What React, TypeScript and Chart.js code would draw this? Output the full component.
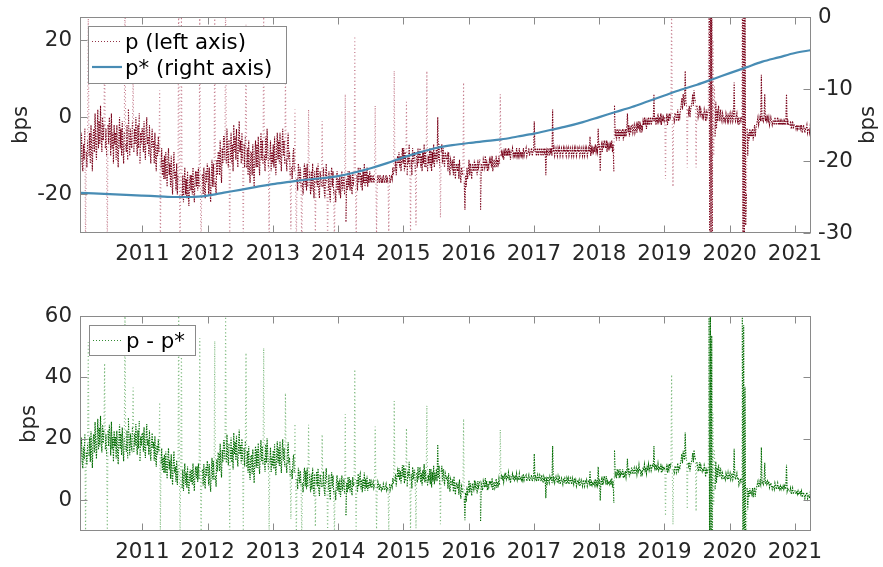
import React, { useEffect, useRef } from "react";
import { Chart, registerables } from "chart.js";

Chart.register(...registerables);

// p, eight readings a month (bps, left axis)
const P_2010 = [
  -8, -15, -6, -13, -17, -9, -4, -12,
  -14, -7, -11, -3, -36, -9, -13, -6,
  27, -10, -4, -12, -2, -9, -14, -5,
  -3, -9, 1, -7, -11, -4, 2, -8,
  -1, -7, 3, -5, -9, 0, -6, -2,
  20, -8, -3, -10, -36, -2, -7, 0,
  -3, -10, 1, -8, -4, -12, -2, -7,
  -4, -11, -2, -9, -13, -5, 0, -8,
  -3, -10, -1, -8, -12, -4, 37, -7,
  -9, -2, -11, 2, -6, -10, -3, -7,
  -8, -1, 12, -9, -3, -7, 0, -6,
  -10, -2, -8, 1, -12, -4, -7, -3,
];
const P_2011 = [
  -3, -9, -1, -8, -11, -4, 0, -7,
  -5, -10, -2, -9, -12, -6, -3, -8,
  -6, -12, -4, -11, -14, -7, -10, -5,
  -9, 7, -36, -13, -8, -15, -11, -16,
  -10, -16, -9, -14, -18, -11, -8, -15,
  -12, -18, -10, -17, -20, -13, -9, -16,
  -14, -19, -12, -20, -15, 38, -18, -36,
  -16, 27, -21, -15, -22, -17, -13, -20,
  -16, -21, -14, -20, -23, -17, -15, -19,
  -15, -20, -13, -19, -22, -16, -14, -18,
  -14, -19, -13, -18, 28, -20, -36, -15,
  -15, -20, -13, -19, -21, -14, -17, -12,
];
const P_2012 = [
  -14, -20, -13, -19, -22, -15, -11, -18,
  -12, -18, 27, -17, -20, -11, -15, -9,
  -9, -15, -6, -14, -17, -8, -12, -5,
  -5, -11, 36, -12, -3, -10, -13, -6,
  -36, -11, -4, -12, -7, -14, -2, -9,
  -5, -11, -3, -10, -13, -6, -1, -9,
  -6, -12, -4, -11, -34, -7, -13, -5,
  24, -13, -8, -15, -6, -14, -17, -9,
  -9, -15, -7, -14, -18, -10, -6, -13,
  -7, -13, -5, -12, -15, -8, -4, -11,
  -6, -12, 26, -10, -14, -5, -11, -3,
  -8, -13, -34, -11, -6, -14, -9, -12,
];
const P_2013 = [
  -7, -13, -5, -12, -15, -8, -4, -11,
  -6, -12, -4, -11, -14, -7, -3, -10,
  -6, -12, 12, -11, -14, -7, -4, -10,
  -9, -15, -29, -13, -16, -10, -8, -14,
  2, -17, -36, -16, -19, -12, -14, -17,
  -13, -18, -36, -17, -20, -14, -12, -18,
  -13, -19, -12, -18, 2, -14, -17, -20,
  -14, -19, -12, -18, -21, -14, -31, -17,
  -13, -18, -12, -19, -21, -14, -16, -18,
  -1, -18, -13, -19, -21, -15, -12, -17,
  -33, -19, -14, -20, -22, -15, -13, -18,
  -14, -20, -34, -19, -22, -16, -14, -19,
];
const P_2014 = [
  -16, -20, -15, -21, -18, -14, -19, -17,
  -15, -20, 6, -27, -16, -19, -14, -18,
  -14, -19, -15, -18, -20, -14, -17, -16,
  21, -18, -33, -15, -19, -13, -17, -14,
  -13, -18, -15, -19, -14, -17, -12, -18,
  -14, -17, -13, -18, -15, -17, -14, -16,
  -15, -17, -16, -15, -17, -16, 3, -15,
  -31, -17, -15, -16, -17, -15, -16, -17,
  -16, -17, -15, -16, -17, -16, -15, -17,
  -16, -17, -31, -15, -17, -16, -15, -16,
  -13, -15, 12, -14, -11, -15, -12, -10,
  -12, -9, -13, -10, -14, -11, -8, -12,
];
const P_2015 = [
  -8, -14, -9, -13, 4, -15, -10, -12,
  -7, -13, -30, -11, -15, -8, -12, -9,
  -9, -14, -28, -10, -13, -8, -12, -10,
  -8, -13, -10, -14, -9, -12, -7, -13,
  -9, -13, 12, -14, -10, -12, -8, -13,
  -8, -14, -9, -12, -7, -13, -10, -11,
  -8, -12, 0, -11, -7, -13, -26, -9,
  -7, -12, -8, -11, -13, -9, -10, -11,
  -10, -14, -9, -13, -15, -11, -12, -13,
  -11, -15, -10, -14, -16, -12, -13, -14,
  -12, -16, -11, -15, -17, -13, -14, -15,
  9, -17, -24, -15, -18, -13, -16, -14,
];
const P_2016 = [
  -11, -15, -12, -14, -16, -12, -13, -14,
  -11, -14, -12, -13, -15, -11, -13, -12,
  -11, -24, -12, -13, -14, -11, -12, -13,
  -10, -13, -11, -14, -12, -13, -11, -12,
  -11, -13, -10, -14, -12, -11, -13, -12,
  -10, -13, -11, -12, -10, -12, 6, -10,
  -9, -10, -9, -11, -9, -10, -8, -10,
  -9, -10, -8, -10, -9, -11, -9, -9,
  -8, -10, -9, -10, -9, -10, -8, -10,
  -9, -10, -8, -10, -9, -10, -9, -10,
  -8, -10, -9, -9, -8, -10, -9, -9,
  -8, -10, -9, -9, -8, -10, -9, -9,
];
const P_2017 = [
  -1, -9, -8, -10, -9, -8, -10, -9,
  -8, -9, -10, -8, -9, -10, -8, -9,
  -8, -15, -9, -10, -8, -9, -10, -8,
  -9, -8, -10, 2, -9, -8, -10, -9,
  -8, -9, -10, -8, -9, -8, -10, -9,
  -8, -9, -10, -8, -9, -8, -9, -10,
  -8, -9, -8, -10, -9, -8, -9, -10,
  -8, -9, -10, -8, -9, -8, -10, -9,
  -8, -9, -8, -10, -9, -8, -9, -10,
  -8, -9, -10, -8, -9, -8, -10, -9,
  -8, -9, -5, -10, -8, -9, -8, -9,
  -8, -9, -7, -9, -8, -9, -3, -8,
];
const P_2018 = [
  -7, -14, -8, -7, -9, -7, -8, -6,
  -7, -8, -6, -9, -7, -8, -7, -8,
  -7, -8, -6, -9, -7, -14, 3, -5,
  -4, -6, -3, -5, -4, -6, -3, -5,
  -4, -5, -3, -6, -4, -5, -3, -5,
  -3, 1, -4, -2, -5, -3, -4, -2,
  -2, -4, -3, -2, -4, -3, -2, -4,
  -2, -3, -1, -3, -2, -4, -2, -3,
  -1, -2, 0, -2, -1, -3, -1, -2,
  0, -2, -1, 0, -2, -1, 0, -1,
  6, -1, 0, -2, 0, -1, 1, -1,
  0, -1, 1, -2, 0, -1, 0, -1,
];
const P_2019 = [
  0, -16, -1, 1, -2, 0, -1, 1,
  0, 1, 30, -1, -18, 0, -1, 1,
  1, -1, 0, 2, -1, 1, 0, 2,
  3, 5, 2, 6, 4, 3, 12, 4,
  3, -13, 2, 1, 3, 0, 2, 3,
  4, 6, 3, 7, 5, 4, -13, 3,
  2, 0, 1, 3, 0, 2, 1, 0,
  1, 0, 2, 1, -1, 2, 0, 1,
  2, 60, -45, 60, -40, 45, -30, 20,
  -10, 8, -5, 4, -3, 2, -1, 3,
  1, -1, 2, 0, -1, 1, 0, -1,
  0, -1, 1, 0, -1, 1, -1, 0,
];
const P_2020 = [
  1, -1, 0, 1, -1, 0, 9, 0,
  -1, 0, 1, -1, 0, -2, -1, 0,
  -1, 0, 55, -45, 50, -40, 30, -28,
  -20, -3, -10, -4, -6, -3, -5, -4,
  -5, -3, -6, -4, -2, -5, -3, -2,
  -1, 0, -2, -1, 0, -1, 11, -1,
  0, -1, 0, 6, -1, 0, -1, 0,
  -1, 0, -2, -1, 0, -1, -2, -1,
  -1, -2, 0, -1, -2, -1, 0, -2,
  -1, -2, -1, -2, -1, -2, -1, -2,
  -1, -2, -1, 6, -2, -1, -2, -2,
  -2, -1, -3, -2, -1, -3, -2, -2,
];
const P_2021 = [
  -2, -3, -2, -3, -2, -3, -3, -2,
  -3, -2, -4, -3, -2, -3, -4, -3,
  -3, -2, -4, -3, -3, -4, -2, -3,
  -3, -3,
];

const P_BY_YEAR: [number, number[]][] = [
  [2010, P_2010], [2011, P_2011], [2012, P_2012], [2013, P_2013],
  [2014, P_2014], [2015, P_2015], [2016, P_2016], [2017, P_2017],
  [2018, P_2018], [2019, P_2019], [2020, P_2020], [2021, P_2021],
];
const READINGS_PER_YEAR = 96;

// p*, quarterly from 2010 Q1 (bps, right axis)
const PSTAR_START = 2010;
const PSTAR = [
  -24.4, -24.5, -24.6, -24.7, -24.8, -24.9, -25.0, -25.0,
  -24.8, -24.4, -24.0, -23.6, -23.2, -22.9, -22.6, -22.4,
  -22.1, -21.6, -21.0, -20.3, -19.5, -18.8, -18.2, -17.8,
  -17.5, -17.25, -17.0, -16.6, -16.2, -15.7, -15.2, -14.6,
  -13.9, -13.2, -12.5, -11.7, -10.9, -10.1, -9.4, -8.6,
  -7.8, -7.0, -6.2, -5.6, -5.0, -4.6,
];

const YEAR_TICKS = [2011, 2012, 2013, 2014, 2015, 2016, 2017, 2018, 2019, 2020, 2021];
const TOP_LEFT_TICKS = [-20, 0, 20];
const TOP_RIGHT_TICKS = [-30, -20, -10, 0];
const BOTTOM_TICKS = [0, 20, 40, 60];

const X_MIN = 2010.045;
const X_MAX = 2021.245;

const FONT = "'DejaVu Sans', sans-serif";
const FONT_SIZE = 21.33;
const TICK_COLOR = "#262626";
const BOX_COLOR = "#8a8a8a";
const RED = "rgb(120,0,24)";
const RED_FAINT = "rgba(150,20,50,0.55)";
const BLUE = "rgb(72,140,180)";
const GREEN = "rgb(0,108,0)";
const GREEN_FAINT = "rgba(20,130,20,0.55)";
const DOT = [1.4, 1.2];
const DOT_SPARSE = [1, 2.6];
const DOT_WIDTH = 1.1;
// jumps larger than this (bps) are drawn as faint dotted streaks,
// except inside the stress bursts where both ends are extreme
const JUMP = 12;
const BURST = 25;

// series points: x in fractional years
const pPoints = P_BY_YEAR.flatMap(([yr, vals]) =>
  vals.map((v, i) => ({ x: yr + (i + 0.5) / READINGS_PER_YEAR, y: v }))
);
const pstarPoints = PSTAR.map((v, i) => ({ x: PSTAR_START + i * 0.25, y: v }));
const pstarAt = (x: number) => {
  const i = Math.min(PSTAR.length - 1, Math.max(0, Math.round((x - PSTAR_START) / 0.25)));
  return PSTAR[i];
};
const diffPoints = pPoints.map((pt) => ({ x: pt.x, y: pt.y - pstarAt(pt.x) }));

const isFaint = (ctx: any) => {
  const i = ctx.p0DataIndex;
  const a = pPoints[i].y;
  const b = pPoints[i + 1] ? pPoints[i + 1].y : a;
  if (Math.abs(b - a) <= JUMP) return false;
  return !(Math.abs(a) >= BURST && Math.abs(b) >= BURST);
};
const dottedSegments = (faint: string) => ({
  borderColor: (ctx: any) => (isFaint(ctx) ? faint : undefined),
  borderDash: (ctx: any) => (isFaint(ctx) ? DOT_SPARSE : undefined),
});

type LegendItem = { label: string; color: string; dash: number[]; width: number };
type AxesOpts = {
  left: string;
  right?: string;
  legend: { x: number; y: number; w: number; h: number; rows: number[]; items: LegendItem[] };
  titles: { x: number; y: number }[];
};

const TL = 7;

// box, inward tick marks, legend and axis titles
const matlabAxes = {
  id: "matlabAxes",
  afterDraw(chart: any, _args: any, opts: AxesOpts) {
    const { ctx, chartArea: a } = chart;
    ctx.save();
    ctx.strokeStyle = BOX_COLOR;
    ctx.lineWidth = 1;
    ctx.setLineDash([]);
    const L = Math.round(a.left) + 0.5;
    const R = Math.round(a.right) - 0.5;
    const T = Math.round(a.top) + 0.5;
    const B = Math.round(a.bottom) - 0.5;
    ctx.beginPath();
    const xs = chart.scales.x;
    for (const t of xs.ticks) {
      const px = Math.round(xs.getPixelForValue(t.value)) + 0.5;
      ctx.moveTo(px, B);
      ctx.lineTo(px, B - TL);
      ctx.moveTo(px, T);
      ctx.lineTo(px, T + TL);
    }
    const yl = chart.scales[opts.left];
    for (const t of yl.ticks) {
      const py = Math.round(yl.getPixelForValue(t.value)) + 0.5;
      ctx.moveTo(L, py);
      ctx.lineTo(L + TL, py);
      if (!opts.right) {
        ctx.moveTo(R, py);
        ctx.lineTo(R - TL, py);
      }
    }
    if (opts.right) {
      const yr = chart.scales[opts.right];
      for (const t of yr.ticks) {
        const py = Math.round(yr.getPixelForValue(t.value)) + 0.5;
        ctx.moveTo(R, py);
        ctx.lineTo(R - TL, py);
      }
    }
    ctx.stroke();
    ctx.strokeRect(L, T, R - L, B - T);

    const lg = opts.legend;
    ctx.fillStyle = "#fff";
    ctx.fillRect(lg.x, lg.y, lg.w, lg.h);
    ctx.strokeStyle = BOX_COLOR;
    ctx.lineWidth = 1;
    ctx.strokeRect(lg.x + 0.5, lg.y + 0.5, lg.w, lg.h);
    ctx.font = `${FONT_SIZE}px ${FONT}`;
    ctx.textBaseline = "alphabetic";
    ctx.textAlign = "left";
    lg.items.forEach((it, i) => {
      const cy = lg.rows[i];
      ctx.beginPath();
      ctx.strokeStyle = it.color;
      ctx.lineWidth = it.width;
      ctx.setLineDash(it.dash);
      ctx.moveTo(lg.x + 4, cy);
      ctx.lineTo(lg.x + 34, cy);
      ctx.stroke();
      ctx.setLineDash([]);
      ctx.fillStyle = "#000";
      ctx.fillText(it.label, lg.x + 37, cy + 7.5);
    });

    ctx.fillStyle = TICK_COLOR;
    ctx.textAlign = "center";
    ctx.textBaseline = "middle";
    for (const t of opts.titles) {
      ctx.save();
      ctx.translate(t.x, t.y);
      ctx.rotate(-Math.PI / 2);
      ctx.fillText("bps", 0, 0);
      ctx.restore();
    }
    ctx.restore();
  },
};

const tickFont = { family: FONT, size: FONT_SIZE };

const xScale = (height: number, padding: number) => ({
  type: "linear" as const,
  min: X_MIN,
  max: X_MAX,
  afterBuildTicks: (s: any) => {
    s.ticks = YEAR_TICKS.map((v) => ({ value: v }));
  },
  afterFit: (s: any) => {
    s.height = height;
    s.paddingLeft = 0;
    s.paddingRight = 0;
  },
  grid: { display: false, drawTicks: false },
  border: { display: false },
  ticks: {
    font: tickFont,
    color: TICK_COLOR,
    padding,
    maxRotation: 0,
    autoSkip: false,
    callback: (v: any) => String(v),
  },
});

const yScale = (
  position: "left" | "right",
  min: number,
  max: number,
  ticks: number[],
  width: number,
  padding: number
) => ({
  type: "linear" as const,
  position,
  min,
  max,
  afterBuildTicks: (s: any) => {
    s.ticks = ticks.map((v) => ({ value: v }));
  },
  afterFit: (s: any) => {
    s.width = width;
    s.paddingTop = 0;
    s.paddingBottom = 0;
  },
  grid: { display: false, drawTicks: false },
  border: { display: false },
  ticks: { font: tickFont, color: TICK_COLOR, padding, callback: (v: any) => String(v) },
});

export default function App() {
  const topRef = useRef<HTMLCanvasElement>(null);
  const botRef = useRef<HTMLCanvasElement>(null);

  useEffect(() => {
    const top = new Chart(topRef.current!, {
      type: "line",
      data: {
        datasets: [
          {
            label: "p* (right axis)",
            data: pstarPoints,
            yAxisID: "y2",
            borderColor: BLUE,
            borderWidth: 2.2,
            pointRadius: 0,
            cubicInterpolationMode: "monotone",
          },
          {
            label: "p (left axis)",
            data: pPoints,
            yAxisID: "y",
            borderColor: RED,
            borderWidth: DOT_WIDTH,
            borderDash: DOT,
            pointRadius: 0,
            tension: 0,
            segment: dottedSegments(RED_FAINT),
          },
        ],
      },
      options: {
        responsive: false,
        animation: false,
        parsing: false,
        normalized: true,
        layout: { padding: { top: 17, left: 0, right: 0, bottom: 0 } },
        plugins: {
          legend: { display: false },
          tooltip: { enabled: false },
          matlabAxes: {
            left: "y",
            right: "y2",
            legend: {
              x: 88,
              y: 26,
              w: 198,
              h: 57,
              rows: [41.5, 67],
              items: [
                { label: "p (left axis)", color: RED, dash: [1, 2], width: 0.8 },
                { label: "p* (right axis)", color: BLUE, dash: [], width: 2.2 },
              ],
            },
            titles: [
              { x: 21, y: 125 },
              { x: 868, y: 125 },
            ],
          },
        } as any,
        scales: {
          x: xScale(50, 9),
          y: yScale("left", -30, 26, TOP_LEFT_TICKS, 80, 8),
          y2: yScale("right", -30, 0, TOP_RIGHT_TICKS, 72, 7),
        } as any,
      },
      plugins: [matlabAxes as any],
    });

    const bottom = new Chart(botRef.current!, {
      type: "line",
      data: {
        datasets: [
          {
            label: "p - p*",
            data: diffPoints,
            borderColor: GREEN,
            borderWidth: DOT_WIDTH,
            borderDash: DOT,
            pointRadius: 0,
            tension: 0,
            segment: dottedSegments(GREEN_FAINT),
          },
        ],
      },
      options: {
        responsive: false,
        animation: false,
        parsing: false,
        normalized: true,
        layout: { padding: { top: 33, left: 0, right: 72, bottom: 0 } },
        plugins: {
          legend: { display: false },
          tooltip: { enabled: false },
          matlabAxes: {
            left: "y",
            legend: {
              x: 89,
              y: 42,
              w: 106,
              h: 30,
              rows: [57.5],
              items: [{ label: "p - p*", color: GREEN, dash: [1, 2], width: 0.8 }],
            },
            titles: [{ x: 29.5, y: 141 }],
          },
        } as any,
        scales: {
          x: xScale(36, 9),
          y: yScale("left", -10, 60, BOTTOM_TICKS, 80, 8),
        } as any,
      },
      plugins: [matlabAxes as any],
    });

    return () => {
      top.destroy();
      bottom.destroy();
    };
  }, []);

  return (
    <div
      style={{
        position: "absolute",
        left: 0,
        top: 0,
        width: 883,
        height: 567,
        background: "#fff",
      }}
    >
      <canvas
        ref={topRef}
        width={883}
        height={283}
        style={{ position: "absolute", left: 0, top: 0, display: "block" }}
      />
      <canvas
        ref={botRef}
        width={883}
        height={284}
        style={{ position: "absolute", left: 0, top: 283, display: "block" }}
      />
    </div>
  );
}
